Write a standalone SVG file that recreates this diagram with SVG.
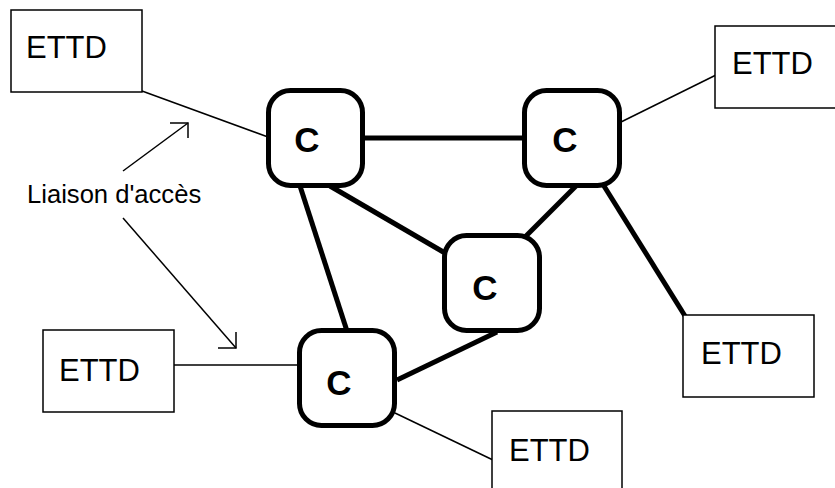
<svg xmlns="http://www.w3.org/2000/svg" width="835" height="488" viewBox="0 0 835 488">
<style>
.ettd rect{fill:#fff;stroke:#000;stroke-width:1.5}
.ettd text{font-family:"Liberation Sans",Arial,sans-serif;font-size:31px;fill:#000}
.c rect{fill:#fff;stroke:#000;stroke-width:5}
.c text{font-family:"Liberation Sans",Arial,sans-serif;font-size:35px;font-weight:bold;text-anchor:middle;fill:#000}
.thin{stroke:#000;stroke-width:1.5;fill:none}
.thick{stroke:#000;stroke-width:5;fill:none}
.lbl{font-family:"Liberation Sans",Arial,sans-serif;font-size:25.6px;fill:#000}
</style>
<rect width="835" height="488" fill="#fff"/>
<g id="connectors">
<line class="thin" x1="142" y1="91" x2="268" y2="137"/>
<line class="thick" x1="365" y1="138" x2="525" y2="138"/>
<line class="thin" x1="621" y1="122" x2="716" y2="75"/>
<line class="thick" x1="604" y1="186" x2="685" y2="316"/>
<line class="thick" x1="330" y1="186" x2="445" y2="253"/>
<line class="thick" x1="576" y1="186" x2="525" y2="237"/>
<line class="thick" x1="300" y1="186" x2="347" y2="331"/>
<line class="thick" x1="397" y1="380" x2="497" y2="332"/>
<line class="thin" x1="174" y1="365" x2="298" y2="365"/>
<line class="thin" x1="395" y1="413" x2="493" y2="460"/>
</g>
<g id="label">
<text class="lbl" x="27" y="203">Liaison d'accès</text>
<line class="thin" x1="123" y1="171" x2="188" y2="123"/>
<polyline class="thin" points="170,123 188,123 188,138"/>
<line class="thin" x1="123" y1="218" x2="236" y2="348"/>
<polyline class="thin" points="218,348 236,348 236,332"/>
</g>
<g id="ettd1" class="ettd"><rect x="11" y="10" width="131" height="82"/><text x="26" y="58">ETTD</text></g>
<g id="ettd2" class="ettd"><rect x="715" y="26" width="131" height="82"/><text x="732" y="74">ETTD</text></g>
<g id="ettd3" class="ettd"><rect x="683" y="315" width="131" height="82"/><text x="701" y="364">ETTD</text></g>
<g id="ettd4" class="ettd"><rect x="43" y="330" width="131" height="82"/><text x="59" y="381">ETTD</text></g>
<g id="ettd5" class="ettd"><rect x="492" y="411" width="130" height="82"/><text x="509" y="461">ETTD</text></g>
<g id="c1" class="c"><rect x="268.5" y="90.5" width="94" height="95" rx="22"/><text x="307" y="152">C</text></g>
<g id="c2" class="c"><rect x="524.5" y="90.5" width="95" height="95" rx="22"/><text x="565" y="152">C</text></g>
<g id="c3" class="c"><rect x="444.5" y="235.5" width="95" height="95" rx="22"/><text x="485" y="300">C</text></g>
<g id="c4" class="c"><rect x="299.5" y="330.5" width="95" height="95" rx="22"/><text x="339" y="395">C</text></g>
</svg>
